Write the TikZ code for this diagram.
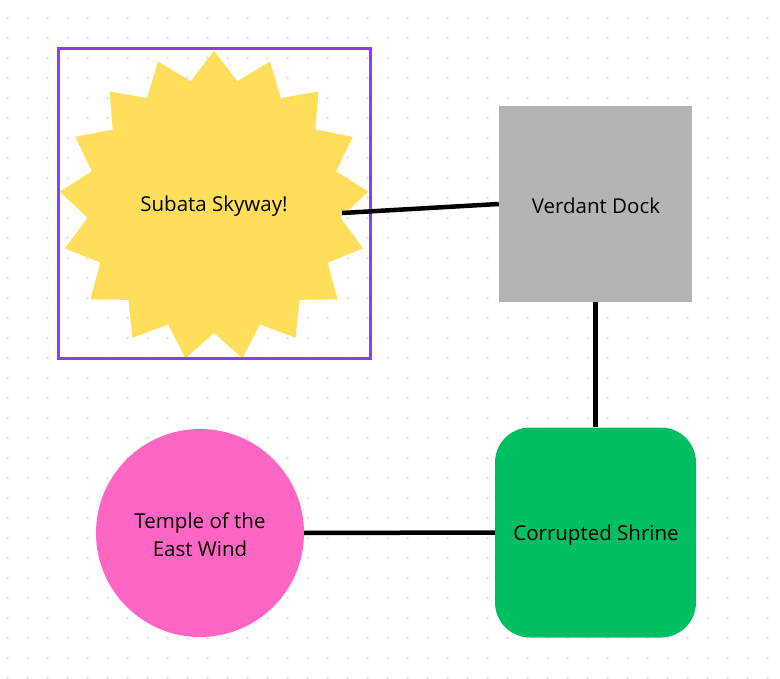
\documentclass[tikz,border=0pt]{standalone}
\usepackage{fontspec}
\setmainfont{Open Sans}
\definecolor{dotc}{HTML}{DDE3EC}
\definecolor{sel}{HTML}{8B3DFF}
\definecolor{staryel}{HTML}{FFDE59}
\definecolor{dockgray}{HTML}{B4B4B4}
\definecolor{shrgreen}{HTML}{00BF63}
\definecolor{tplpink}{HTML}{FF66C4}
\tikzset{
  lbl/.style={font=\fontsize{20.5}{28}\selectfont, text=black, align=center},
  conn/.style={line width=4.5pt, black},
}
\begin{document}
\begin{tikzpicture}[x=1pt,y=-1pt]
\useasboundingbox[fill=white] (0,0) rectangle (780,679);
% dotted background
\foreach \xx in {7.5,27.5,...,780} {
  \foreach \yy in {18,38,...,679} {
    \fill[dotc] (\xx,\yy) circle (1.5pt);
  }
}
% star
\begin{scope}[shift={(214,206)}]
\fill[staryel] (90:155pt) \foreach \i [evaluate=\i as \r using {mod(\i,2)==0?155:127}] in {1,...,33} { -- ({90+\i*180/17}:\r pt) } -- cycle;
\end{scope}
\node[lbl] (sky) at (214,206) {Subata Skyway!};
% selection box
\draw[sel, line width=3pt] (58,49) rectangle (370,359);
% dock
\node[fill=dockgray, minimum width=193pt, minimum height=196pt, inner sep=0] (dock) at (595.5,204) {};
\node[lbl] (docklbl) at (596,206) {Verdant Dock};
% shrine
\node[fill=shrgreen, rounded corners=35pt, minimum width=201pt, minimum height=210pt, inner sep=0] (shrine) at (595.5,532.5) {};
\node[lbl] (shrlbl) at (596,535) {Corrupted Shrine};
% temple
\node[fill=tplpink, circle, minimum size=208pt, inner sep=0] (temple) at (200,533) {};
\node[lbl] (tpllbl) at (200,535) {Temple of the\\East Wind};
% connectors
\coordinate (skyout) at (342,213);
\draw[conn] (skyout) -- (dock.west);
\draw[conn] (dock.south) -- (shrine.north);
\draw[conn] (temple.east) -- (shrine.west);
\end{tikzpicture}
\end{document}
